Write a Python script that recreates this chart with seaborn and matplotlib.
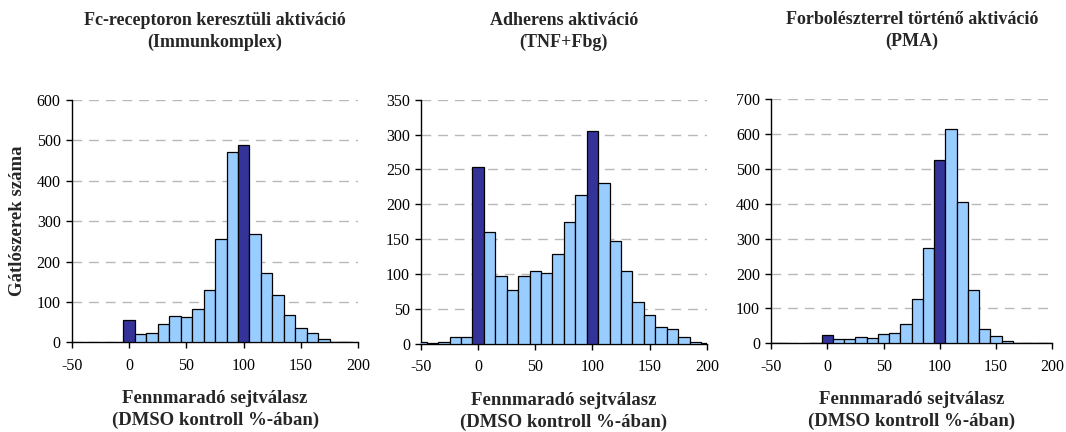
import numpy as np
import pandas as pd
import matplotlib
matplotlib.use("Agg")
import matplotlib.pyplot as plt
import seaborn as sns

sns.set_theme(style="white")
plt.rcParams['font.family'] = ['Liberation Serif', 'DejaVu Serif']
plt.rcParams['axes.unicode_minus'] = False

# bin centres (% of DMSO control)
bins_centers = list(range(-50, 201, 10))

titles = ["Fc-receptoron keresztüli aktiváció\n(Immunkomplex)",
          "Adherens aktiváció\n(TNF+Fbg)",
          "Forbolészterrel történő aktiváció\n(PMA)"]

counts_fc = [0, 0, 0, 0, 0, 55, 20, 23, 45, 66, 62, 83, 130, 257, 471, 489,
             268, 172, 116, 68, 35, 24, 9, 2, 2, 0]
counts_tnf = [3, 1.5, 3, 9, 10, 254, 160, 97, 77, 97, 105, 102, 128, 175, 214,
              305, 230, 147, 105, 60, 41, 24, 21, 9, 3, 1]
counts_pma = [2, 2, 0, 0, 2, 23, 12, 12, 19, 16, 27, 30, 54, 126, 272, 524,
              615, 404, 154, 40, 20, 6, 2, 2, 2, 2]

control_bins = [0, 100]
ymax = [600, 350, 700]
ystep = [100, 50, 100]

xlabel = "Fennmaradó sejtválasz\n(DMSO kontroll %-ában)"
ylabel = "Gátlószerek száma"

light = "#99CCFF"
dark = "#333399"

fig = plt.figure(figsize=(10.66, 4.32), dpi=100)
positions = [
    [0.0673, 0.2076, 0.2689, 0.5609],
    [0.3950, 0.2044, 0.2680, 0.5648],
    [0.7233, 0.2053, 0.2639, 0.5655],
]
data = [counts_fc, counts_tnf, counts_pma]
edges = [float(e) for e in np.arange(bins_centers[0] - 5, bins_centers[-1] + 6, 10)]

for i, (pos, counts) in enumerate(zip(positions, data)):
    ax = fig.add_axes(pos)
    df = pd.DataFrame({"x": [float(v) for v in bins_centers],
                       "n": [float(v) for v in counts]})
    sns.histplot(data=df, x="x", weights="n", bins=edges, ax=ax,
                 color=light, edgecolor="black", linewidth=0.9, alpha=1,
                 zorder=3)
    for p in ax.patches:
        c = p.get_x() + p.get_width() / 2
        if any(abs(c - cb) < 1e-6 for cb in control_bins):
            p.set_facecolor(dark)
        if p.get_height() == 0:
            p.set_visible(False)
    ax.set_xlim(-50, 200)
    ax.set_ylim(0, ymax[i])
    ax.set_xticks(range(-50, 201, 50))
    ax.set_yticks(range(0, ymax[i] + 1, ystep[i]))
    ax.yaxis.grid(True, linestyle=(0, (7, 5)), color="#b8b8b8", linewidth=1.0, zorder=0)
    ax.set_axisbelow(True)
    for s in ["top", "right"]:
        ax.spines[s].set_visible(False)
    for s in ["left", "bottom"]:
        ax.spines[s].set_color("black")
        ax.spines[s].set_linewidth(1.0)
    ax.tick_params(axis="both", direction="out", length=4, width=1,
                   color="black", labelsize=11.5, labelcolor="black",
                   bottom=True, left=True)
    ax.tick_params(axis="x", pad=7)
    ax.tick_params(axis="y", pad=4)
    ax.set_xlabel(xlabel, fontsize=13.5, fontweight="bold", labelpad=12,
                  linespacing=1.35)
    if i == 0:
        ax.set_ylabel(ylabel, fontsize=13.5, fontweight="bold", labelpad=8)
    else:
        ax.set_ylabel("")
    ax.set_title(titles[i], fontsize=13, fontweight="bold", pad=38,
                 linespacing=1.35)

fig.savefig("out.png", dpi=100)
